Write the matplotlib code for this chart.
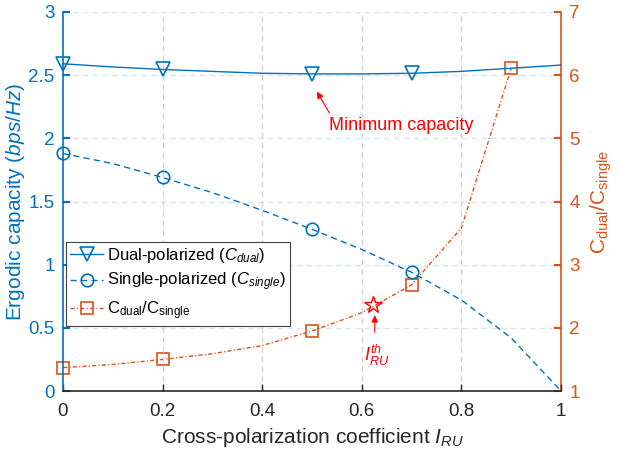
import numpy as np
import matplotlib
matplotlib.use("Agg")
import matplotlib.pyplot as plt

plt.rcParams['font.family'] = ['Liberation Sans', 'DejaVu Sans']
plt.rcParams['mathtext.fontset'] = 'custom'
plt.rcParams['mathtext.rm'] = 'Liberation Sans'
plt.rcParams['mathtext.it'] = 'Liberation Sans:italic'
plt.rcParams['mathtext.bf'] = 'Liberation Sans:bold'

# Cross-polarization coefficient sweep
l_ru = [0.0, 0.1, 0.2, 0.3, 0.4, 0.5, 0.6, 0.7, 0.8, 0.9, 1.0]
c_dual = [2.59, 2.565, 2.545, 2.53, 2.515, 2.51, 2.51, 2.515, 2.53, 2.555, 2.58]
c_single = [1.88, 1.80, 1.69, 1.57, 1.43, 1.28, 1.12, 0.94, 0.72, 0.42, 0.0]
ratio = [1.37, 1.42, 1.50, 1.59, 1.72, 1.95, 2.24, 2.68, 3.58, 6.11, np.nan]

dual_marks = [0, 2, 5, 7]
single_marks = [0, 2, 5, 7]
ratio_marks = [0, 2, 5, 7, 9]

threshold_x = 0.623
threshold_ratio = 2.36

x_ticks = [0, 0.2, 0.4, 0.6, 0.8, 1]
left_ticks = [0, 0.5, 1, 1.5, 2, 2.5, 3]
right_ticks = [1, 2, 3, 4, 5, 6, 7]

BLUE = '#0072BD'
ORANGE = '#D95319'
RED = '#FF0000'
DARK = '#262626'

fig = plt.figure(figsize=(6.19, 4.57), dpi=100)
ax = fig.add_axes([63 / 619, 1 - 391 / 457, (561 - 63) / 619, (391 - 12) / 457])
ax2 = ax.twinx()

# left axis: capacities
l1, = ax.plot(l_ru, c_dual, '-', color=BLUE, lw=1.0, marker='v', ms=10,
              mfc='none', mec=BLUE, mew=1.2, markevery=dual_marks,
              label='Dual-polarized ($C_{dual}$)', clip_on=False, zorder=3)
l2, = ax.plot(l_ru, c_single, color=BLUE, lw=1.0, ls=(0, (4.5, 3)), marker='o', ms=9,
              mfc='none', mec=BLUE, mew=1.2, markevery=single_marks,
              label='Single-polarized ($C_{single}$)', clip_on=False, zorder=3)

# right axis: capacity ratio
l3, = ax2.plot(l_ru, ratio, color=ORANGE, lw=1.0, ls=(0, (3, 1.6, 0.8, 1.6)),
               marker='s', ms=8,
               mfc='none', mec=ORANGE, mew=1.2, markevery=ratio_marks,
               label='C$_\\mathrm{dual}$/C$_\\mathrm{single}$', clip_on=False, zorder=3)

ax.set_xlim(0, 1)
ax.set_ylim(0, 3)
ax2.set_ylim(1, 7)
ax.set_xticks(x_ticks)
ax.set_xticklabels(['0', '0.2', '0.4', '0.6', '0.8', '1'])
ax.set_yticks(left_ticks)
ax.set_yticklabels(['0', '0.5', '1', '1.5', '2', '2.5', '3'])
ax2.set_yticks(right_ticks)

# grid: light blue horizontal dashes, light grey vertical dashes
for yv in left_ticks[1:]:
    ax.axhline(yv, color=BLUE, alpha=0.18, lw=1.0, ls=(0, (4, 3)), zorder=0)
for xv in x_ticks[1:-1]:
    ax.axvline(xv, color='#d4d4d4', lw=1.0, ls=(0, (4, 3)), zorder=0)

ax.spines['top'].set_visible(False)
ax2.spines['top'].set_visible(False)
ax.spines['right'].set_visible(False)
ax2.spines['left'].set_visible(False)
ax.spines['left'].set_color(BLUE)
ax2.spines['right'].set_color(ORANGE)
ax.spines['bottom'].set_color(DARK)
ax2.spines['bottom'].set_visible(False)
for s in ['left', 'bottom']:
    ax.spines[s].set_linewidth(1.2)
ax2.spines['right'].set_linewidth(1.2)

ax.tick_params(axis='x', direction='in', length=5, width=1.0, colors=DARK,
               labelsize=13.5, pad=9)
ax.tick_params(axis='y', direction='in', length=5, width=1.5, colors=BLUE,
               labelsize=13.5, pad=6)
ax2.tick_params(axis='y', direction='in', length=5, width=1.5, colors=ORANGE,
                labelsize=13.5, pad=6)

ax.set_xlabel('Cross-polarization coefficient $I_{RU}$', fontsize=15, color=DARK,
              labelpad=4)
ax.set_ylabel('Ergodic capacity ($bps/Hz$)', fontsize=15, color=BLUE, labelpad=1)
ax2.set_ylabel('C$_\\mathrm{dual}$/C$_\\mathrm{single}$', fontsize=15, color=ORANGE,
               labelpad=6)

# threshold marker and annotations
ax2.plot([threshold_x], [threshold_ratio], marker='*', ms=13, mfc='none',
         mec=RED, mew=1.0, ls='none', zorder=4)
ax2.annotate('', xy=(threshold_x + 0.003, 2.2), xytext=(threshold_x + 0.003, 1.93),
             arrowprops=dict(arrowstyle='-|>', color=RED, lw=0.8,
                             mutation_scale=10, shrinkA=0, shrinkB=0))
ax2.text(threshold_x + 0.006, 1.57, '$I^{th}_{RU}$', color=RED, fontsize=13,
         ha='center', va='center')

ax.annotate('', xy=(0.51, 2.37), xytext=(0.535, 2.2),
            arrowprops=dict(arrowstyle='-|>', color=RED, lw=0.8,
                            mutation_scale=10, shrinkA=0, shrinkB=0))
ax.text(0.679, 2.105, 'Minimum capacity', color=RED, fontsize=13,
        ha='center', va='center')

leg = ax.legend(handles=[l1, l2, l3], loc='lower left',
                bbox_to_anchor=(0.006, 0.172), fontsize=12, frameon=True,
                fancybox=False, edgecolor='#404040', framealpha=1.0,
                handlelength=2.0, handletextpad=0.2, borderpad=0.25,
                labelspacing=0.35, borderaxespad=0.0)
leg.get_frame().set_linewidth(0.8)
leg.set_zorder(5)
ax.set_zorder(ax2.get_zorder() + 1)
ax.patch.set_visible(False)

fig.savefig('out.png', dpi=100)
